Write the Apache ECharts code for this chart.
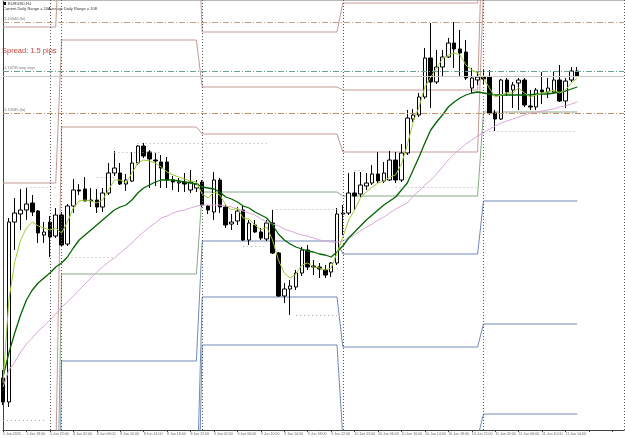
<!DOCTYPE html>
<html><head><meta charset="utf-8">
<script src="https://cdn.jsdelivr.net/npm/echarts@6/dist/echarts.min.js"></script>
<style>html,body{margin:0;padding:0;background:#fff}#c{width:625px;height:438px}</style>
</head><body><div id="c"></div>
<script>
// ---- data (EURUSD H1) ----
const open = [1.12260,1.12140,1.13040,1.13080,1.13100,1.13135,1.13095,1.12975,1.13040,1.12970,
1.13075,1.12930,1.13120,1.13200,1.13205,1.13145,1.13150,1.13115,1.13185,1.13285,
1.13285,1.13230,1.13245,1.13335,1.13420,1.13390,1.13350,1.13340,1.13340,1.13250,
1.13235,1.13240,1.13200,1.13210,1.13240,1.13120,1.13090,1.13250,1.13115,1.13030,
1.13045,1.13100,1.12950,1.13025,1.12990,1.12955,1.13035,1.12885,1.12670,1.12705,
1.12715,1.12785,1.12900,1.12820,1.12815,1.12800,1.12790,1.12835,1.13080,1.13085,
1.13185,1.13180,1.13220,1.13235,1.13280,1.13245,1.13250,1.13350,1.13250,1.13385,
1.13555,1.13575,1.13665,1.13860,1.13740,1.13815,1.13865,1.13935,1.13905,1.13890,
1.13710,1.13750,1.13765,1.13765,1.13585,1.13555,1.13750,1.13700,1.13735,1.13750,
1.13620,1.13615,1.13700,1.13690,1.13690,1.13750,1.13645,1.13750,1.13795];
const high = [1.12300,1.13060,1.13160,1.13205,1.13210,1.13175,1.13100,1.13040,1.13070,1.13110,
1.13090,1.13130,1.13255,1.13230,1.13265,1.13210,1.13205,1.13210,1.13335,1.13395,
1.13335,1.13280,1.13390,1.13425,1.13435,1.13400,1.13385,1.13375,1.13365,1.13270,
1.13260,1.13285,1.13300,1.13250,1.13250,1.13125,1.13290,1.13260,1.13125,1.13080,
1.13115,1.13120,1.13050,1.13050,1.13010,1.13050,1.13100,1.12890,1.12735,1.12750,
1.12800,1.12915,1.12925,1.12850,1.12835,1.12825,1.12840,1.13110,1.13125,1.13285,
1.13290,1.13290,1.13285,1.13325,1.13390,1.13340,1.13395,1.13390,1.13430,1.13600,
1.13605,1.13685,1.13910,1.14035,1.13900,1.13900,1.13960,1.14040,1.14000,1.13950,
1.13810,1.13790,1.13800,1.13800,1.13600,1.13755,1.13760,1.13740,1.13760,1.13760,
1.13700,1.13710,1.13790,1.13760,1.13790,1.13825,1.13760,1.13815,1.13815];
const low = [1.12125,1.12115,1.12900,1.13000,1.13050,1.13070,1.12935,1.12935,1.12865,1.12960,
1.12915,1.12920,1.13085,1.13175,1.13145,1.13115,1.13085,1.13090,1.13175,1.13270,
1.13225,1.13195,1.13240,1.13325,1.13360,1.13210,1.13220,1.13210,1.13210,1.13200,
1.13190,1.13190,1.13185,1.13190,1.13115,1.13080,1.13050,1.13085,1.13010,1.13000,
1.13025,1.12945,1.12925,1.12985,1.12950,1.12945,1.12880,1.12665,1.12635,1.12575,
1.12700,1.12770,1.12800,1.12775,1.12760,1.12760,1.12765,1.12825,1.12975,1.13075,
1.13100,1.13165,1.13200,1.13225,1.13235,1.13235,1.13245,1.13235,1.13240,1.13375,
1.13540,1.13565,1.13655,1.13610,1.13730,1.13765,1.13860,1.13810,1.13765,1.13750,
1.13685,1.13725,1.13725,1.13575,1.13495,1.13550,1.13670,1.13610,1.13600,1.13615,
1.13600,1.13600,1.13630,1.13660,1.13680,1.13640,1.13610,1.13740,1.13765];
const close = [1.12140,1.13040,1.13085,1.13100,1.13130,1.13090,1.12985,1.12990,1.12965,1.13075,
1.12925,1.13120,1.13200,1.13195,1.13145,1.13150,1.13115,1.13185,1.13285,1.13310,
1.13230,1.13250,1.13335,1.13420,1.13370,1.13355,1.13345,1.13310,1.13250,1.13240,
1.13240,1.13230,1.13240,1.13230,1.13125,1.13100,1.13250,1.13115,1.13025,1.13040,
1.13095,1.12950,1.13035,1.12990,1.12960,1.13035,1.12885,1.12670,1.12705,1.12720,
1.12785,1.12900,1.12815,1.12815,1.12805,1.12775,1.12835,1.13080,1.13085,1.13185,
1.13170,1.13225,1.13235,1.13280,1.13245,1.13285,1.13350,1.13250,1.13385,1.13560,
1.13575,1.13665,1.13860,1.13740,1.13815,1.13865,1.13935,1.13905,1.13885,1.13760,
1.13760,1.13765,1.13755,1.13585,1.13555,1.13750,1.13690,1.13725,1.13750,1.13625,
1.13615,1.13700,1.13690,1.13710,1.13750,1.13645,1.13745,1.13795,1.13770];

// moving averages
const maFast = [1.12235,1.12650,1.12840,1.12950,1.13010,1.13040,1.13020,1.13010,1.13000,1.13010,
1.12985,1.13040,1.13110,1.13145,1.13150,1.13145,1.13135,1.13150,1.13200,1.13250,
1.13250,1.13235,1.13285,1.13335,1.13350,1.13345,1.13335,1.13315,1.13290,1.13275,
1.13265,1.13255,1.13245,1.13240,1.13180,1.13160,1.13190,1.13175,1.13125,1.13100,
1.13110,1.13060,1.13055,1.13025,1.13000,1.13015,1.12950,1.12850,1.12785,1.12760,
1.12780,1.12825,1.12835,1.12815,1.12810,1.12800,1.12810,1.12885,1.12965,1.13050,
1.13100,1.13160,1.13190,1.13215,1.13235,1.13245,1.13265,1.13275,1.13330,1.13425,
1.13540,1.13615,1.13715,1.13765,1.13810,1.13855,1.13875,1.13885,1.13875,1.13825,
1.13800,1.13785,1.13760,1.13710,1.13665,1.13675,1.13685,1.13685,1.13710,1.13685,
1.13665,1.13675,1.13685,1.13690,1.13700,1.13685,1.13700,1.13735,1.13760];
const maMid = [1.12265,1.12385,1.12485,1.12575,1.12650,1.12700,1.12735,1.12760,1.12785,1.12815,
1.12835,1.12865,1.12910,1.12950,1.12975,1.13000,1.13025,1.13050,1.13075,1.13100,
1.13115,1.13125,1.13150,1.13185,1.13210,1.13225,1.13240,1.13250,1.13250,1.13250,
1.13245,1.13240,1.13235,1.13230,1.13215,1.13210,1.13205,1.13190,1.13165,1.13155,
1.13140,1.13120,1.13110,1.13090,1.13075,1.13060,1.13025,1.12980,1.12950,1.12930,
1.12915,1.12905,1.12895,1.12890,1.12880,1.12875,1.12865,1.12890,1.12920,1.12960,
1.12990,1.13020,1.13050,1.13075,1.13100,1.13125,1.13145,1.13165,1.13200,1.13235,
1.13300,1.13365,1.13435,1.13500,1.13540,1.13575,1.13615,1.13640,1.13660,1.13675,
1.13685,1.13690,1.13685,1.13680,1.13675,1.13675,1.13675,1.13675,1.13675,1.13675,
1.13675,1.13680,1.13680,1.13680,1.13685,1.13690,1.13695,1.13705,1.13715];
const maSlow = [1.12215,1.12300,1.12340,1.12390,1.12430,1.12460,1.12495,1.12520,1.12550,1.12580,
1.12615,1.12640,1.12670,1.12700,1.12730,1.12760,1.12790,1.12815,1.12840,1.12860,
1.12885,1.12910,1.12935,1.12965,1.12990,1.13015,1.13035,1.13060,1.13070,1.13085,
1.13095,1.13100,1.13110,1.13120,1.13125,1.13125,1.13125,1.13125,1.13120,1.13115,
1.13105,1.13095,1.13085,1.13075,1.13055,1.13040,1.13030,1.13020,1.13005,1.12995,
1.12985,1.12975,1.12970,1.12960,1.12950,1.12945,1.12940,1.12940,1.12945,1.12960,
1.12975,1.12995,1.13015,1.13030,1.13050,1.13065,1.13085,1.13105,1.13120,1.13135,
1.13170,1.13195,1.13225,1.13250,1.13280,1.13315,1.13350,1.13380,1.13405,1.13430,
1.13450,1.13470,1.13485,1.13505,1.13520,1.13535,1.13545,1.13555,1.13565,1.13575,
1.13585,1.13590,1.13595,1.13600,1.13605,1.13615,1.13620,1.13630,1.13640];

// daily pivot levels (one value per day)
const dayStart = [0, 10, 34, 58, 82];
const dayEnd   = [9, 33, 57, 81, 98];
const pivR3 = [1.14015, 1.14685, 1.13990, 1.14135, 1.15275];
const pivR2 = [1.13235, 1.13950, 1.13715, 1.13700, 1.14660];
const pivR1 = [1.11850, 1.13515, 1.13480, 1.13390, 1.14210];
const pivP  = [1.11070, 1.12780, 1.13190, 1.13170, 1.13590];
const pivS1 = [1.10150, 1.12345, 1.12945, 1.12880, 1.13145];
const pivS2 = [1.09650, 1.11610, 1.12665, 1.12415, 1.12530];
const pivS3 = [1.09150, 1.11175, 1.12425, 1.11960, 1.12080];

// dotted level segments
const dotLevel = [1.12050, 1.13215, 1.12865, 1.13265, 1.13390, 1.13435, 1.12920, 1.13105, 1.12575, 1.13300, 1.13215, 1.13495];
const dotFrom  = [0, 4, 11, 16, 19, 23, 41, 46, 50, 60, 67, 83];
const dotTo    = [7, 9, 19, 19, 27, 45, 45, 57, 57, 62, 81, 98];

// full-width horizontal levels
const hLevels = [1.14040, 1.13795, 1.13585];
const hLabels = ['1.14040 (hi)', '1.13795 buy stop', '1.13585 (lo)'];
const bid = 1.13770;

const separators = [8, 10, 34, 58, 82, 106];
const tickLabels = ['5 Jun 2020','5 Jun 18:00','5 Jun 22:00','8 Jun 02:00','8 Jun 06:00','8 Jun 10:00','8 Jun 14:00',
'8 Jun 18:00','8 Jun 22:00','9 Jun 02:00','9 Jun 06:00','9 Jun 10:00','9 Jun 14:00','9 Jun 18:00','9 Jun 22:00',
'10 Jun 02:00','10 Jun 06:00','10 Jun 10:00','10 Jun 14:00','10 Jun 18:00','10 Jun 22:00','11 Jun 02:00',
'11 Jun 06:00','11 Jun 10:00','11 Jun 14:00'];
const NSLOTS = 107;

// ---- build ----
const categories = Array.from({length: NSLOTS}, (_, i) => String(i));
const candles = open.map((o, i) => [o, close[i], low[i], high[i]]);
const FONT = '"Liberation Sans", Arial, sans-serif';

function pivotSeries(levels, color, labelText) {
  const pts = [];
  for (let d = 0; d < dayStart.length; d++) {
    pts.push([dayStart[d], levels[d]]);
    pts.push([dayEnd[d], levels[d]]);
  }
  if (labelText) {
    const last = pts.pop();
    pts.push({value: last, label: {show: true, position: 'left', distance: 1, offset: [0, 3],
      formatter: labelText + ' ' + last[1].toFixed(5), fontSize: 4, color: color, fontFamily: FONT}});
  }
  return {type: 'line', data: pts, symbol: 'none', silent: true, z: 1,
    lineStyle: {color: color, width: 1}, animation: false};
}
const RC = '#c49a94', PC = '#8aa88a', SC = '#7189b8';

const dotMarks = dotLevel.map((v, k) => [
  {coord: [String(dotFrom[k]), v]}, {coord: [String(dotTo[k]), v]}]);

function hLine(v, color, text) {
  return {yAxis: v, lineStyle: {color: color, type: [6, 2, 1, 2], width: 1},
    label: {show: true, position: 'insideStartTop', formatter: text, fontSize: 4, color: '#777', distance: 1, fontFamily: FONT}};
}

const option = {
  animation: false,
  grid: {left: 0.82, right: 0.9, top: 0, bottom: 8},
  xAxis: [{type: 'category', data: categories, boundaryGap: false,
    axisLine: {lineStyle: {color: '#404040', width: 1}},
    axisTick: {show: true, interval: 3, length: 2, lineStyle: {color: '#404040'}},
    axisLabel: {interval: 3, fontSize: 3.6, color: '#666', align: 'left', margin: 2, fontFamily: FONT,
      showMinLabel: true, hideOverlap: false,
      formatter: (v, idx) => tickLabels[idx / 4] || ''},
    splitLine: {show: false}},
    {type: 'category', data: categories, boundaryGap: false, position: 'top',
     axisLine: {show: true, lineStyle: {color: '#b8b8b8'}}, axisTick: {show: false}, axisLabel: {show: false}}],
  yAxis: {type: 'value', min: 1.12, max: 1.1415,
    axisLine: {show: true, lineStyle: {color: '#404040'}},
    axisLabel: {show: false}, axisTick: {show: false}, splitLine: {show: false}},
  graphic: [
    {type: 'rect', left: 3, top: 2, shape: {width: 3, height: 3}, style: {fill: '#000'}},
    {type: 'text', left: 8, top: 1.5, style: {text: 'EURUSD,H1', font: '4px ' + FONT, fill: '#333'}},
    {type: 'text', left: 3, top: 6.5, style: {text: 'Current Daily Range = 101', font: '4px ' + FONT, fill: '#333'}},
    {type: 'text', left: 48, top: 6.5, style: {text: 'Average Daily Range = 108', font: '4px ' + FONT, fill: '#333'}},
    {type: 'text', left: 2, top: 47, style: {text: 'Spread: 1.5 pips', font: '7.5px ' + FONT, fill: '#c8453a'}}
  ],
  series: [
    pivotSeries(pivR3, RC), pivotSeries(pivR2, RC), pivotSeries(pivR1, RC),
    pivotSeries(pivP, PC, 'Pivot'),
    pivotSeries(pivS1, SC, 'S1'), pivotSeries(pivS2, SC, 'S2'), pivotSeries(pivS3, SC, 'S3'),
    {type: 'line', data: [], symbol: 'none', silent: true, z: 1,
      markLine: {silent: true, symbol: 'none', animation: false, precision: 6, label: {show: false},
        lineStyle: {color: '#aaaaaa', type: [1, 3], width: 1},
        data: dotMarks}},
    {type: 'line', data: [], symbol: 'none', silent: true, z: 1,
      markLine: {silent: true, symbol: 'none', animation: false, precision: 6,
        data: [
          hLine(hLevels[0], '#c4a080', hLabels[0]),
          hLine(hLevels[1], '#6aa090', hLabels[1]),
          hLine(hLevels[2], '#c49060', hLabels[2]),
          {yAxis: bid, lineStyle: {color: '#c8c8c8', type: 'solid', width: 1}, label: {show: false}}
        ]}},
    {type: 'line', data: [], symbol: 'none', silent: true, z: 1,
      markLine: {silent: true, symbol: 'none', animation: false, label: {show: false},
        lineStyle: {color: '#555', type: [1, 2], width: 1},
        data: separators.map(s => ({xAxis: String(s)}))}},
    {type: 'candlestick', data: candles, barWidth: 4, z: 3, silent: true,
      itemStyle: {color: '#ffffff', color0: '#000000', borderColor: '#000000', borderColor0: '#000000', borderWidth: 1}},
    {type: 'line', data: maSlow, symbol: 'none', z: 4, silent: true, lineStyle: {color: '#d8a8d8', width: 1}},
    {type: 'line', data: maMid, symbol: 'none', z: 4, silent: true, lineStyle: {color: '#006400', width: 1.3}},
    {type: 'line', data: maFast, symbol: 'none', z: 4, silent: true, lineStyle: {color: '#9acd32', width: 1}}
  ]
};
const chart = echarts.init(document.getElementById('c'));
chart.setOption(option);
</script></body></html>
